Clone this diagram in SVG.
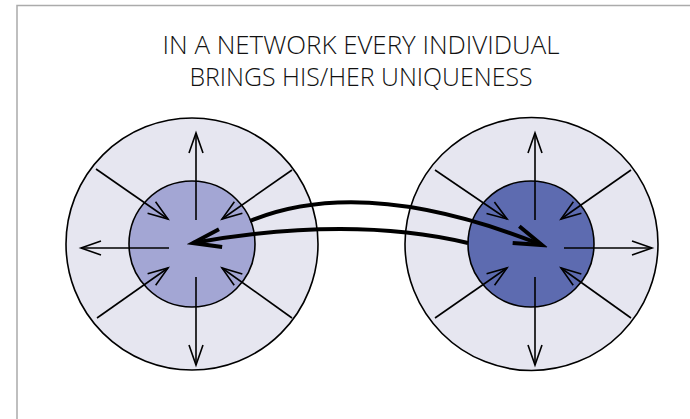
<svg xmlns="http://www.w3.org/2000/svg" width="690" height="419" viewBox="0 0 690 419">
  <style>
    .frame { fill: none; stroke: #ababab; stroke-width: 1.5; }
    .title { font-family: "Open Sans", "Liberation Sans", sans-serif; font-weight: 300; font-size: 25px; fill: #111; text-anchor: middle; }
    .outer { fill: #e6e6f0; stroke: #000; stroke-width: 1.6; }
    .inner { stroke: #000; stroke-width: 1.6; }
    .spoke { fill: none; stroke: #000; stroke-width: 1.6; marker-end: url(#thin); }
    .link { fill: none; stroke: #000; stroke-width: 4; marker-end: url(#thick); }
  </style>
  <defs>
    <marker id="thin" markerUnits="userSpaceOnUse" markerWidth="30" markerHeight="20" viewBox="-22 -10 24 20" refX="0" refY="0" orient="auto">
      <path d="M-20,-7 L0,0 L-20,7" fill="none" stroke="#000" stroke-width="1.6"/>
    </marker>
    <marker id="thick" markerUnits="userSpaceOnUse" markerWidth="40" markerHeight="30" viewBox="-32 -15 36 30" refX="0" refY="0" orient="auto">
      <path d="M-28,-9 L0,0 L-28,9" fill="none" stroke="#000" stroke-width="4"/>
    </marker>
  </defs>

  <rect width="690" height="419" fill="#fff"/>
  <path class="frame" d="M17,419 L17,5.5 L690,5.5"/>

  <g id="title">
    <text class="title" x="361" y="54" textLength="397" lengthAdjust="spacingAndGlyphs">IN A NETWORK EVERY INDIVIDUAL</text>
    <text class="title" x="361" y="86" textLength="343" lengthAdjust="spacingAndGlyphs">BRINGS HIS/HER UNIQUENESS</text>
  </g>

  <g id="node-left">
    <circle class="outer" cx="192" cy="244" r="126"/>
    <circle class="inner" cx="192" cy="244" r="63" fill="#a3a6d4"/>
    <line class="spoke" x1="196" y1="220" x2="196" y2="133"/>
    <line class="spoke" x1="196" y1="277" x2="196" y2="365"/>
    <line class="spoke" x1="169" y1="248" x2="81" y2="248"/>
    <line class="spoke" x1="96" y1="169" x2="168" y2="219"/>
    <line class="spoke" x1="292" y1="170" x2="222" y2="219"/>
    <line class="spoke" x1="97" y1="318" x2="168" y2="268"/>
    <line class="spoke" x1="292" y1="318" x2="222" y2="268"/>
  </g>

  <g id="node-right">
    <circle class="outer" cx="531.5" cy="244" r="126.5"/>
    <circle class="inner" cx="531" cy="244" r="63" fill="#5d6bb0"/>
    <line class="spoke" x1="535" y1="220" x2="535" y2="133"/>
    <line class="spoke" x1="535" y1="277" x2="535" y2="365"/>
    <line class="spoke" x1="564" y1="248" x2="652" y2="248"/>
    <line class="spoke" x1="435" y1="170" x2="507" y2="219"/>
    <line class="spoke" x1="631" y1="170" x2="561" y2="219"/>
    <line class="spoke" x1="435" y1="318" x2="507" y2="268"/>
    <line class="spoke" x1="631" y1="318" x2="561" y2="268"/>
  </g>

  <g id="connectors">
    <path class="link" d="M250,221 Q364,174 542,245"/>
    <path class="link" d="M468,243 Q350,215 193,243"/>
  </g>
</svg>
